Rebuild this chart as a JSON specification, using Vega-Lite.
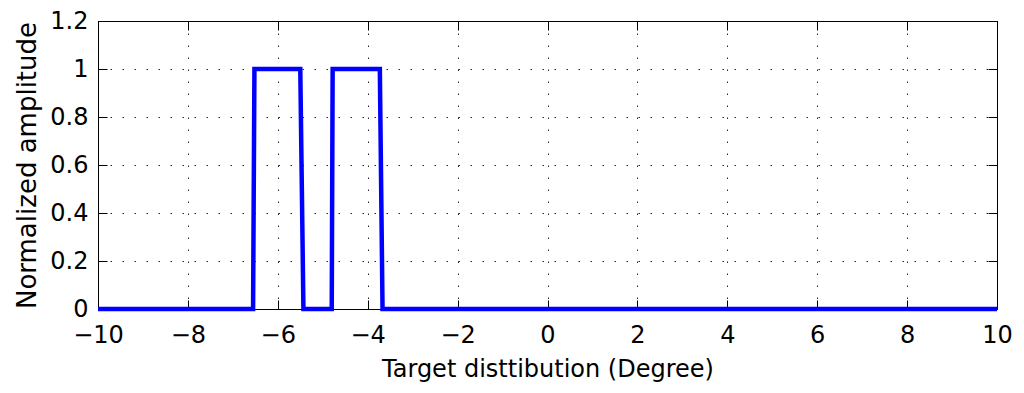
{
  "$schema": "https://vega.github.io/schema/vega-lite/v6.json",
  "width": 899,
  "height": 288,
  "autosize": "none",
  "padding": {"left": 98, "top": 21, "right": 27, "bottom": 84},
  "background": "white",
  "config": {
    "view": {"stroke": "black", "strokeWidth": 1},
    "font": "DejaVu Sans",
    "axis": {
      "labelFont": "DejaVu Sans",
      "titleFont": "DejaVu Sans",
      "labelFontSize": 24,
      "titleFontSize": 24,
      "titleFontWeight": "normal",
      "labelColor": "black",
      "titleColor": "black",
      "domainColor": "black",
      "tickColor": "black",
      "tickSize": -9,
      "tickWidth": 1,
      "labelOverlap": false,
      "labelFlush": false,
      "gridColor": "black",
      "gridDash": [1.5, 10.5],
      "gridOpacity": 0.85,
      "gridWidth": 1
    }
  },
  "data": {"values": [
    {"x": -10, "y": 0},
    {"x": -6.55, "y": 0},
    {"x": -6.52, "y": 1},
    {"x": -5.5, "y": 1},
    {"x": -5.43, "y": 0},
    {"x": -4.8, "y": 0},
    {"x": -4.78, "y": 1},
    {"x": -3.73, "y": 1},
    {"x": -3.67, "y": 0},
    {"x": 10, "y": 0}
  ]},
  "layer": [
    {
      "mark": {"type": "line", "color": "#0000ff", "strokeWidth": 4.5, "strokeJoin": "miter"},
      "encoding": {
        "x": {"field": "x", "type": "quantitative", "scale": {"domain": [-10, 10], "nice": false, "zero": false},
          "axis": {"orient": "bottom", "values": [-10, -8, -6, -4, -2, 0, 2, 4, 6, 8, 10], "format": "d", "title": "Target disttibution (Degree)", "labelPadding": 23, "titlePadding": 10, "grid": true}},
        "y": {"field": "y", "type": "quantitative", "scale": {"domain": [0, 1.2], "nice": false},
          "axis": {"orient": "left", "values": [0, 0.2, 0.4, 0.6, 0.8, 1, 1.2], "format": "~g", "title": "Normalized amplitude", "titleFontSize": 26, "labelPadding": 19, "titlePadding": 9, "grid": true}}
      }
    },
    {
      "mark": {"type": "line", "opacity": 0},
      "encoding": {
        "x": {"field": "x", "type": "quantitative", "scale": {"domain": [-10, 10], "nice": false, "zero": false},
          "axis": {"orient": "top", "values": [-10, -8, -6, -4, -2, 0, 2, 4, 6, 8, 10], "labels": false, "title": null, "grid": false}},
        "y": {"field": "y", "type": "quantitative", "scale": {"domain": [0, 1.2], "nice": false},
          "axis": {"orient": "right", "values": [0, 0.2, 0.4, 0.6, 0.8, 1, 1.2], "labels": false, "title": null, "grid": false}}
      }
    }
  ],
  "resolve": {"axis": {"x": "independent", "y": "independent"}}
}
